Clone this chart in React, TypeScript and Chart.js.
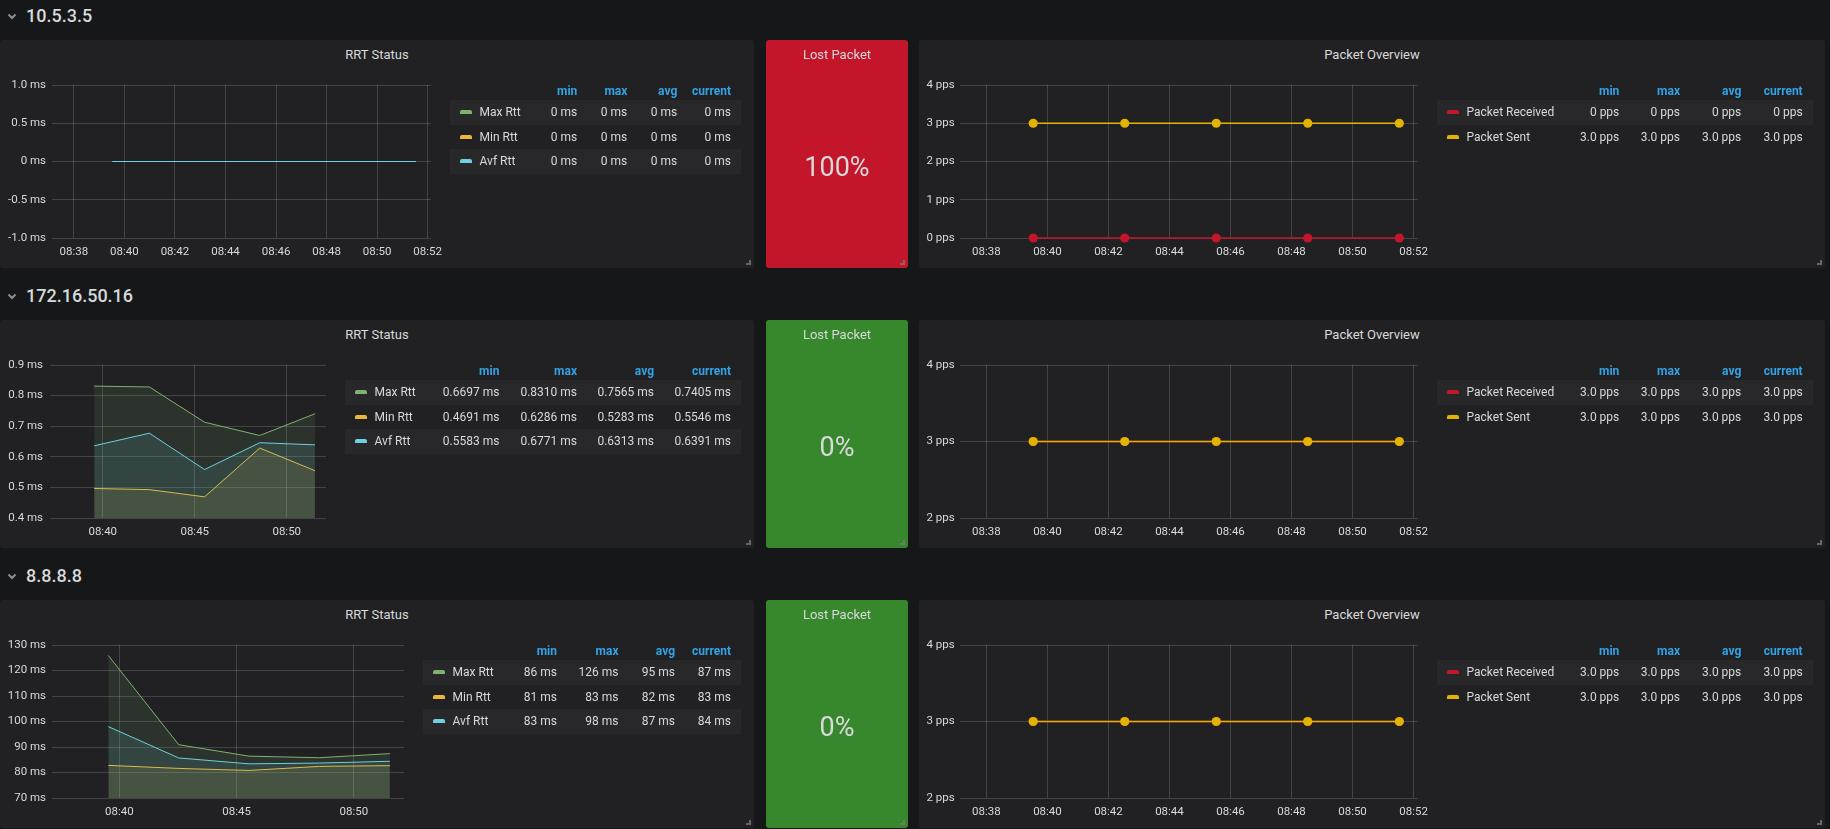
import React, { useEffect, useRef } from "react";
import { Chart, registerables } from "chart.js";

Chart.register(...registerables);

// ---------------- data ----------------
const HOSTS = ["10.5.3.5", "172.16.50.16", "8.8.8.8"];
const SAMPLE_TIMES = ["08:39:32", "08:42:32", "08:45:32", "08:48:32", "08:51:32"];
const X_RANGE = ["08:37:08", "08:52:08"];
const X_TICKS_2MIN = ["08:38", "08:40", "08:42", "08:44", "08:46", "08:48", "08:50", "08:52"];
const X_TICKS_5MIN = ["08:40", "08:45", "08:50"];

const RTT_SERIES = ["Max Rtt", "Min Rtt", "Avf Rtt"];
const PKT_SERIES = ["Packet Received", "Packet Sent"];
const STAT_HEADERS = ["min", "max", "avg", "current"];
const LOST_VALUES = ["100%", "0%", "0%"];

// host 1 (10.5.3.5)
const H1_MAX_RTT = [0, 0, 0, 0, 0];
const H1_MIN_RTT = [0, 0, 0, 0, 0];
const H1_AVG_RTT = [0, 0, 0, 0, 0];
const H1_RTT_Y_TICKS = [-1, -0.5, 0, 0.5, 1];
const H1_RTT_Y_LABELS = ["-1.0 ms", "-0.5 ms", "0 ms", "0.5 ms", "1.0 ms"];
const H1_RTT_STATS = [
  ["0 ms", "0 ms", "0 ms", "0 ms"],
  ["0 ms", "0 ms", "0 ms", "0 ms"],
  ["0 ms", "0 ms", "0 ms", "0 ms"],
];
const H1_PKT_RECV = [0, 0, 0, 0, 0];
const H1_PKT_SENT = [3, 3, 3, 3, 3];
const H1_PKT_Y_TICKS = [0, 1, 2, 3, 4];
const H1_PKT_Y_LABELS = ["0 pps", "1 pps", "2 pps", "3 pps", "4 pps"];
const H1_PKT_STATS = [
  ["0 pps", "0 pps", "0 pps", "0 pps"],
  ["3.0 pps", "3.0 pps", "3.0 pps", "3.0 pps"],
];

// host 2 (172.16.50.16)
const H2_MAX_RTT = [0.831, 0.8283, 0.713, 0.6697, 0.7405];
const H2_MIN_RTT = [0.4965, 0.4927, 0.4691, 0.6286, 0.5546];
const H2_AVG_RTT = [0.636, 0.6771, 0.5583, 0.646, 0.6391];
const H2_RTT_Y_TICKS = [0.4, 0.5, 0.6, 0.7, 0.8, 0.9];
const H2_RTT_Y_LABELS = ["0.4 ms", "0.5 ms", "0.6 ms", "0.7 ms", "0.8 ms", "0.9 ms"];
const H2_RTT_STATS = [
  ["0.6697 ms", "0.8310 ms", "0.7565 ms", "0.7405 ms"],
  ["0.4691 ms", "0.6286 ms", "0.5283 ms", "0.5546 ms"],
  ["0.5583 ms", "0.6771 ms", "0.6313 ms", "0.6391 ms"],
];
const H2_PKT_RECV = [3, 3, 3, 3, 3];
const H2_PKT_SENT = [3, 3, 3, 3, 3];
const H2_PKT_Y_TICKS = [2, 3, 4];
const H2_PKT_Y_LABELS = ["2 pps", "3 pps", "4 pps"];
const H2_PKT_STATS = [
  ["3.0 pps", "3.0 pps", "3.0 pps", "3.0 pps"],
  ["3.0 pps", "3.0 pps", "3.0 pps", "3.0 pps"],
];

// host 3 (8.8.8.8)
const H3_MAX_RTT = [125.9, 90.9, 86.4, 85.8, 87.4];
const H3_MIN_RTT = [82.8, 81.6, 80.8, 82.4, 82.7];
const H3_AVG_RTT = [98.0, 85.7, 83.4, 83.7, 84.4];
const H3_RTT_Y_TICKS = [70, 80, 90, 100, 110, 120, 130];
const H3_RTT_Y_LABELS = ["70 ms", "80 ms", "90 ms", "100 ms", "110 ms", "120 ms", "130 ms"];
const H3_RTT_STATS = [
  ["86 ms", "126 ms", "95 ms", "87 ms"],
  ["81 ms", "83 ms", "82 ms", "83 ms"],
  ["83 ms", "98 ms", "87 ms", "84 ms"],
];
const H3_PKT_RECV = [3, 3, 3, 3, 3];
const H3_PKT_SENT = [3, 3, 3, 3, 3];
const H3_PKT_Y_TICKS = [2, 3, 4];
const H3_PKT_Y_LABELS = ["2 pps", "3 pps", "4 pps"];
const H3_PKT_STATS = [
  ["3.0 pps", "3.0 pps", "3.0 pps", "3.0 pps"],
  ["3.0 pps", "3.0 pps", "3.0 pps", "3.0 pps"],
];

// ---------------- style ----------------
const PAGE_BG = "#161719";
const PANEL_BG = "#212124";
const ROW_BG = "#28282b";
const TEXT = "#d8d9da";
const HEAD_BLUE = "#33a2e5";
const GRID = "rgba(255,255,255,0.16)";
const FONT = "Roboto, 'Open Sans', sans-serif";
const RTT_COLORS = ["#7eb26d", "#eab839", "#6ed0e0"];
const PKT_COLORS = ["#c4162a", "#e0b400"];
const LOST_COLORS = ["#c4162a", "#37872d", "#37872d"];

const toMin = (t: string) => {
  const p = t.split(":").map(Number);
  return p[0] * 60 + p[1] + (p[2] || 0) / 60;
};
const hexA = (hex: string, a: number) => {
  const n = parseInt(hex.slice(1), 16);
  return `rgba(${(n >> 16) & 255},${(n >> 8) & 255},${n & 255},${a})`;
};

type Series = { label: string; data: number[]; color: string; fill: boolean; points: boolean; width: number; order: number };

function LineChart(props: {
  left: number; top: number; plotLeft: number; plotRight: number; yLabelRight: number;
  yTicks: number[]; yLabels: string[]; xTicks: string[]; series: Series[];
}) {
  const ref = useRef<HTMLCanvasElement>(null);
  const width = Math.round(props.plotRight - props.left + 26);
  const height = 190;
  useEffect(() => {
    const xs = SAMPLE_TIMES.map(toMin);
    const yTicks = props.yTicks;
    const chart = new Chart(ref.current as HTMLCanvasElement, {
      type: "line",
      data: {
        datasets: props.series.map((s) => ({
          label: s.label,
          data: s.data.map((y, i) => ({ x: xs[i], y })),
          borderColor: s.color,
          backgroundColor: s.fill ? hexA(s.color, 0.12) : s.color,
          borderWidth: s.width,
          pointRadius: s.points ? 4.6 : 0,
          pointBackgroundColor: s.color,
          pointBorderWidth: 0,
          fill: s.fill ? "origin" : false,
          tension: 0,
          order: s.order,
          clip: s.points ? false : undefined,
        })),
      },
      options: {
        animation: false,
        responsive: false,
        events: [],
        layout: { padding: { top: 10, right: width - (props.plotRight - props.left), left: 0, bottom: 0 } },
        plugins: { legend: { display: false }, tooltip: { enabled: false }, title: { display: false } },
        scales: {
          x: {
            type: "linear",
            min: toMin(X_RANGE[0]),
            max: toMin(X_RANGE[1]),
            afterBuildTicks: (s: any) => {
              s.ticks = props.xTicks.map((t) => ({ value: toMin(t) }));
            },
            afterFit: (s: any) => {
              s.height = 27;
              s.paddingLeft = 0;
              s.paddingRight = 0;
            },
            ticks: {
              autoSkip: false,
              maxRotation: 0,
              padding: 7,
              color: TEXT,
              font: { family: FONT, size: 11.5 },
              callback: (_v: any, i: number) => props.xTicks[i],
            },
            grid: { color: GRID, drawTicks: false, lineWidth: 1 },
            border: { display: false },
          },
          y: {
            type: "linear",
            min: yTicks[0],
            max: yTicks[yTicks.length - 1],
            afterBuildTicks: (s: any) => {
              s.ticks = yTicks.map((v) => ({ value: v }));
            },
            afterFit: (s: any) => {
              s.width = props.plotLeft - props.left;
              s.paddingTop = 0;
              s.paddingBottom = 0;
            },
            ticks: {
              padding: props.plotLeft - props.yLabelRight,
              color: TEXT,
              font: { family: FONT, size: 11.5 },
              callback: (_v: any, i: number) => props.yLabels[i],
            },
            grid: { color: GRID, drawTicks: false, lineWidth: 1 },
            border: { display: false },
          },
        },
      },
    } as any);
    return () => chart.destroy();
  }, []);
  return (
    <canvas
      ref={ref}
      width={width}
      height={height}
      style={{ position: "absolute", left: props.left, top: props.top, width, height }}
    />
  );
}

function Txt(p: { x: number; y: number; text: string; align?: "left" | "right" | "center"; size: number; weight?: number; color?: string }) {
  const lh = Math.round(p.size * 1.3);
  const align = p.align || "left";
  const w = 400;
  const left = align === "left" ? p.x : align === "right" ? p.x - w : p.x - w / 2;
  return (
    <div
      style={{
        position: "absolute",
        left,
        top: p.y - lh / 2,
        width: w,
        height: lh,
        lineHeight: `${lh}px`,
        fontSize: p.size,
        fontWeight: p.weight || 400,
        color: p.color || TEXT,
        textAlign: align,
        whiteSpace: "nowrap",
        fontFamily: FONT,
      }}
    >
      {p.text}
    </div>
  );
}

function Panel(p: { left: number; top: number; width: number; height: number; bg: string; children?: any }) {
  return (
    <div style={{ position: "absolute", left: p.left, top: p.top, width: p.width, height: p.height, background: p.bg, borderRadius: 3 }}>
      <div
        style={{
          position: "absolute",
          right: 3,
          bottom: 3,
          width: 3,
          height: 3,
          borderRight: "2px solid rgba(120,120,120,0.8)",
          borderBottom: "2px solid rgba(120,120,120,0.8)",
        }}
      />
      {p.children}
    </div>
  );
}

function Legend(p: { top: number; bgLeft: number; bgRight: number; cols: number[]; names: string[]; colors: string[]; stats: string[][] }) {
  const rowH = 24.5;
  const items: any[] = [];
  STAT_HEADERS.forEach((h, j) =>
    items.push(<Txt key={"h" + j} x={p.cols[j]} y={p.top + 90.5} text={h} align="right" size={12} weight={700} color={HEAD_BLUE} />)
  );
  p.names.forEach((n, i) => {
    const bandTop = p.top + 100 + i * rowH;
    const cy = bandTop + rowH / 2;
    if (i % 2 === 0)
      items.push(
        <div key={"bg" + i} style={{ position: "absolute", left: p.bgLeft, top: bandTop, width: p.bgRight - p.bgLeft, height: rowH, background: ROW_BG }} />
      );
    items.push(
      <div
        key={"sw" + i}
        style={{ position: "absolute", left: p.bgLeft + 10, top: cy - 2, width: 12, height: 4, background: p.colors[i], borderRadius: "2px 2px 0 0" }}
      />
    );
    items.push(<Txt key={"n" + i} x={p.bgLeft + 29.5} y={cy} text={n} size={12} />);
    p.stats[i].forEach((s, j) => items.push(<Txt key={"s" + i + j} x={p.cols[j]} y={cy} text={s} align="right" size={12} />));
  });
  return <>{items}</>;
}

// ---------------- layout ----------------
const ROW_TOPS = [0, 280, 560];
const RTT_GEOM = [
  { plotLeft: 52, plotRight: 431, yLabelRight: 46, legendLeft: 450, cols: [577.3, 627.3, 677.3, 731] },
  { plotLeft: 50, plotRight: 326, yLabelRight: 43, legendLeft: 345, cols: [499.4, 577, 654, 731] },
  { plotLeft: 52, plotRight: 404, yLabelRight: 46, legendLeft: 423, cols: [557, 618.5, 675, 731] },
];
const PKT_GEOM = { plotLeft: 960, plotRight: 1417.6, yLabelRight: 954.6, legendLeft: 1437, legendRight: 1812.7, cols: [1619.3, 1680, 1741.3, 1802.7] };

const RTT_DATA = [
  [H1_MAX_RTT, H1_MIN_RTT, H1_AVG_RTT],
  [H2_MAX_RTT, H2_MIN_RTT, H2_AVG_RTT],
  [H3_MAX_RTT, H3_MIN_RTT, H3_AVG_RTT],
];
const RTT_Y = [
  [H1_RTT_Y_TICKS, H1_RTT_Y_LABELS],
  [H2_RTT_Y_TICKS, H2_RTT_Y_LABELS],
  [H3_RTT_Y_TICKS, H3_RTT_Y_LABELS],
] as [number[], string[]][];
const RTT_X = [X_TICKS_2MIN, X_TICKS_5MIN, X_TICKS_5MIN];
const RTT_STATS = [H1_RTT_STATS, H2_RTT_STATS, H3_RTT_STATS];
const PKT_DATA = [
  [H1_PKT_RECV, H1_PKT_SENT],
  [H2_PKT_RECV, H2_PKT_SENT],
  [H3_PKT_RECV, H3_PKT_SENT],
];
const PKT_Y = [
  [H1_PKT_Y_TICKS, H1_PKT_Y_LABELS],
  [H2_PKT_Y_TICKS, H2_PKT_Y_LABELS],
  [H3_PKT_Y_TICKS, H3_PKT_Y_LABELS],
] as [number[], string[]][];
const PKT_STATS = [H1_PKT_STATS, H2_PKT_STATS, H3_PKT_STATS];

function Row({ idx }: { idx: number }) {
  const top = ROW_TOPS[idx];
  const g = RTT_GEOM[idx];
  const rttSeries: Series[] = RTT_SERIES.map((label, i) => ({
    label,
    data: RTT_DATA[idx][i],
    color: RTT_COLORS[i],
    fill: true,
    points: false,
    width: 1,
    order: 2 - i,
  }));
  const pktSeries: Series[] = PKT_SERIES.map((label, i) => ({
    label,
    data: PKT_DATA[idx][i],
    color: PKT_COLORS[i],
    fill: false,
    points: true,
    width: 1.6,
    order: 1 - i,
  }));
  return (
    <>
      <svg style={{ position: "absolute", left: 0, top: top }} width={24} height={30}>
        <polyline points="8.5,14.5 12,18 15.5,14.5" fill="none" stroke="#8e8e8e" strokeWidth={2} />
      </svg>
      <Txt x={26} y={top + 15} text={HOSTS[idx]} size={18} weight={500} />

      <Panel left={0} top={top + 40} width={754} height={228} bg={PANEL_BG} />
      <Txt x={377} y={top + 54.7} text="RRT Status" align="center" size={13} />
      <LineChart
        left={0}
        top={top + 75}
        plotLeft={g.plotLeft}
        plotRight={g.plotRight}
        yLabelRight={g.yLabelRight}
        yTicks={RTT_Y[idx][0]}
        yLabels={RTT_Y[idx][1]}
        xTicks={RTT_X[idx]}
        series={rttSeries}
      />
      <Legend top={top} bgLeft={g.legendLeft} bgRight={741} cols={g.cols} names={RTT_SERIES} colors={RTT_COLORS} stats={RTT_STATS[idx]} />

      <Panel left={766} top={top + 40} width={142} height={228} bg={LOST_COLORS[idx]} />
      <Txt x={837} y={top + 54.7} text="Lost Packet" align="center" size={13} />
      <Txt x={837} y={top + 167} text={LOST_VALUES[idx]} align="center" size={27} />

      <Panel left={919} top={top + 40} width={906} height={228} bg={PANEL_BG} />
      <Txt x={1372} y={top + 54.7} text="Packet Overview" align="center" size={13} />
      <LineChart
        left={910}
        top={top + 75}
        plotLeft={PKT_GEOM.plotLeft}
        plotRight={PKT_GEOM.plotRight}
        yLabelRight={PKT_GEOM.yLabelRight}
        yTicks={PKT_Y[idx][0]}
        yLabels={PKT_Y[idx][1]}
        xTicks={X_TICKS_2MIN}
        series={pktSeries}
      />
      <Legend
        top={top}
        bgLeft={PKT_GEOM.legendLeft}
        bgRight={PKT_GEOM.legendRight}
        cols={PKT_GEOM.cols}
        names={PKT_SERIES}
        colors={PKT_COLORS}
        stats={PKT_STATS[idx]}
      />
    </>
  );
}

export default function App() {
  return (
    <div
      style={{
        position: "fixed",
        left: 0,
        top: 0,
        width: 1830,
        height: 829,
        background: PAGE_BG,
        overflow: "hidden",
        fontFamily: FONT,
      }}
    >
      {HOSTS.map((_, i) => (
        <Row key={i} idx={i} />
      ))}
    </div>
  );
}
